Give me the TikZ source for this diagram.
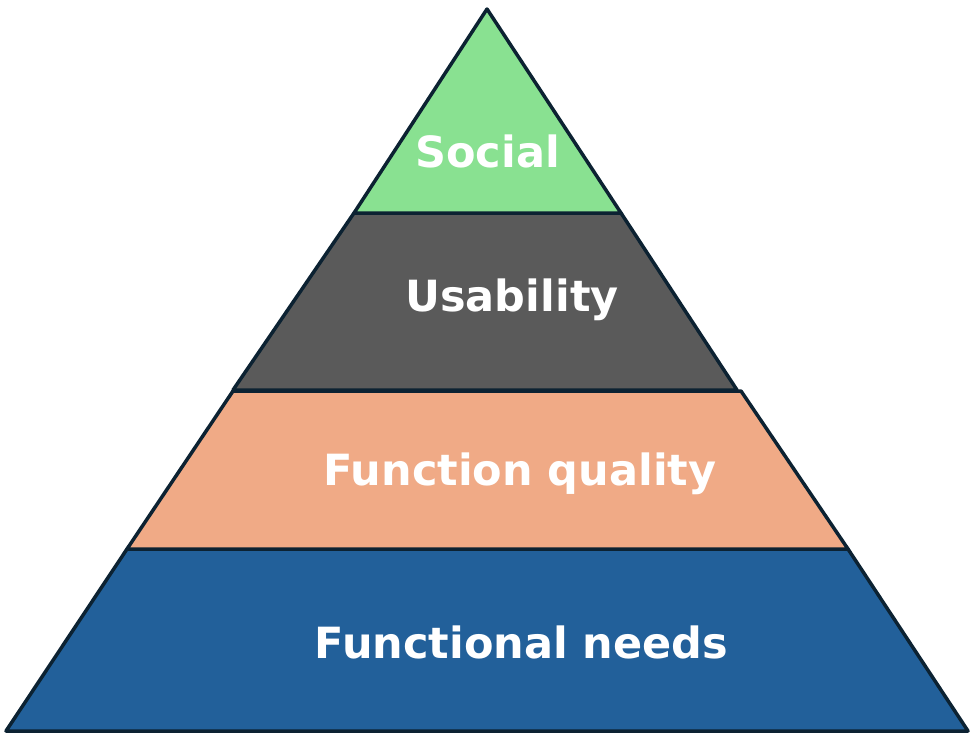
\documentclass[tikz,border=0pt]{standalone}
\usepackage{fontspec}
\setmainfont{DejaVu Sans}
\definecolor{cgreen}{RGB}{137,225,145}
\definecolor{cgray}{RGB}{90,90,90}
\definecolor{csalmon}{RGB}{240,170,134}
\definecolor{cblue}{RGB}{34,96,154}
\definecolor{cline}{RGB}{12,34,50}
\begin{document}
\begin{tikzpicture}[x=1pt,y=-1pt,
  layer/.style={draw=cline,line width=3.5pt,line join=round},
  lbl/.style={text=white,font=\bfseries\fontsize{43}{48}\selectfont,anchor=base,inner sep=0pt}]
\useasboundingbox (0,0) rectangle (976,744);
\filldraw[layer,fill=cblue] (127,549) -- (848,549) -- (968,731) -- (6,731) -- cycle;
\filldraw[layer,fill=csalmon] (233,391) -- (741,391) -- (848,549) -- (127,549) -- cycle;
\filldraw[layer,fill=cgray] (354,213) -- (621,213) -- (737,390) -- (233,390) -- cycle;
\filldraw[layer,fill=cgreen] (487,9) -- (621,213) -- (354,213) -- cycle;
\node[lbl] (social) at (487.5,167) {Social};
\node[lbl] (usability) at (512,311) {Usability};
\node[lbl] (quality) at (520,485) {Function quality};
\node[lbl] (needs) at (521.5,658) {Functional needs};
\end{tikzpicture}
\end{document}
